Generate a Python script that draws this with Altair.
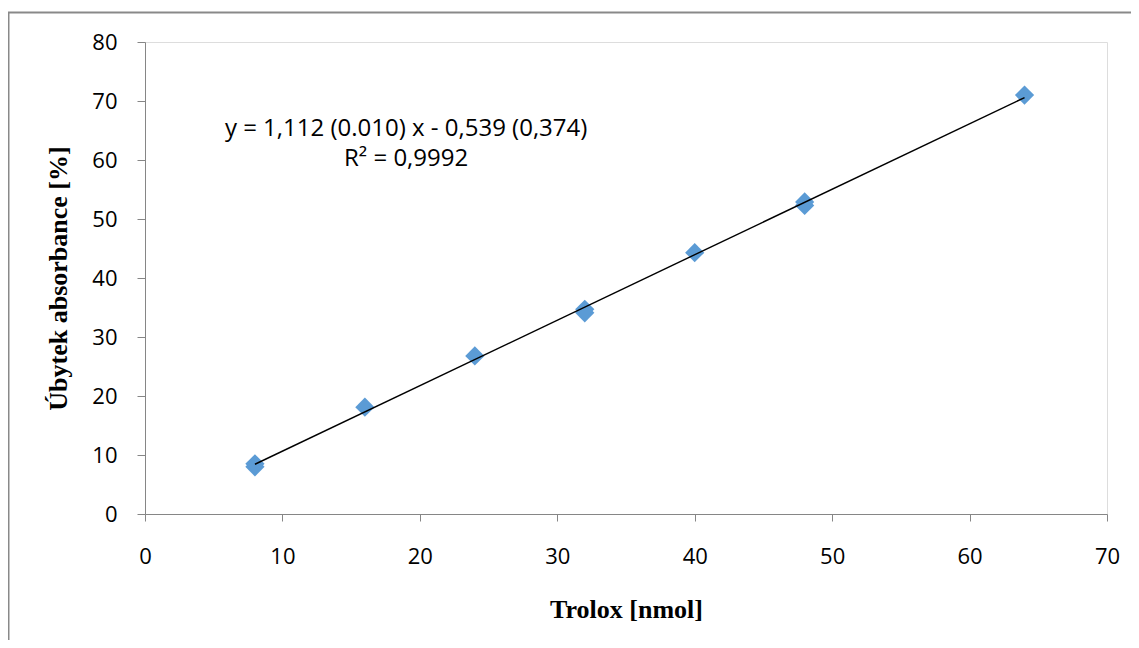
import altair as alt
import pandas as pd

# ---- data ----
trolox = [8, 8, 16, 24, 32, 32, 40, 48, 48, 64]
ubytek = [8.0, 8.5, 18.1, 26.8, 34.1, 34.7, 44.3, 52.3, 52.9, 71.0]
x_ticks = [0, 10, 20, 30, 40, 50, 60, 70]
y_ticks = [0, 10, 20, 30, 40, 50, 60, 70, 80]
ann_text = ["y = 1,112 (0.010) x - 0,539 (0,374)", "R\u00b2 = 0,9992"]
ann_x = [19.0, 19.0]
ann_y = [65.25, 60.2]

df = pd.DataFrame({"x": trolox, "y": ubytek})
ann = pd.DataFrame({"t": ann_text, "x": ann_x, "y": ann_y})

W, H = 962, 472
GRAY = "#868686"
SANS = "Open Sans"
SERIF = "Liberation Serif"

xscale = alt.Scale(domain=[0, 70], nice=False, zero=False)
yscale = alt.Scale(domain=[0, 80], nice=False, zero=False)

x_axis = alt.Axis(
    values=x_ticks, grid=False, domainColor=GRAY, tickColor=GRAY,
    tickSize=7, labelPadding=25, labelFont=SANS, labelFontSize=22,
    labelColor="black", labelBaseline="top", labelFlush=False,
    title="Trolox [nmol]", titleFont=SERIF, titleFontSize=26,
    titleFontWeight="bold", titleColor="black",
    titleX=W / 2, titleY=103, titleBaseline="alphabetic", titleAlign="center",
)
y_axis = alt.Axis(
    values=y_ticks, grid=False, domainColor=GRAY, tickColor=GRAY,
    tickSize=8, labelPadding=20, labelFont=SANS, labelFontSize=22,
    labelColor="black", labelFlush=False,
    title="\u00dabytek absorbance [%]", titleFont=SERIF, titleFontSize=26,
    titleFontWeight="bold", titleColor="black",
    titleX=-79, titleY=H / 2, titleBaseline="alphabetic", titleAlign="center",
    titleAngle=270,
)

base = alt.Chart(df)

border = alt.Chart(pd.DataFrame({"a": [0]})).mark_rect(
    fill=None, stroke="#898989", strokeWidth=2, clip=False
).encode(
    x=alt.value(-136.5), x2=alt.value(1400),
    y=alt.value(-29.5), y2=alt.value(900),
)

points = base.mark_point(
    shape="diamond", filled=True, size=370, color="#5B9BD5", opacity=1
).encode(
    x=alt.X("x:Q", scale=xscale, axis=x_axis),
    y=alt.Y("y:Q", scale=yscale, axis=y_axis),
)

trend = base.transform_regression("x", "y").mark_line(
    color="black", strokeWidth=1.4
).encode(
    x=alt.X("x:Q", scale=xscale),
    y=alt.Y("y:Q", scale=yscale),
)

text = alt.Chart(ann).mark_text(
    font=SANS, fontSize=24, color="black", align="center", baseline="middle"
).encode(
    x=alt.X("x:Q", scale=xscale),
    y=alt.Y("y:Q", scale=yscale),
    text="t:N",
)

chart = alt.layer(border, points, trend, text).properties(
    width=W, height=H,
    autosize=alt.AutoSizeParams(type="none"),
    padding={"left": 137, "top": 34, "right": 24, "bottom": 126},
).configure_view(stroke=None).configure(background="white")

chart.save("out.html", embed_options={"renderer": "svg", "actions": False})
